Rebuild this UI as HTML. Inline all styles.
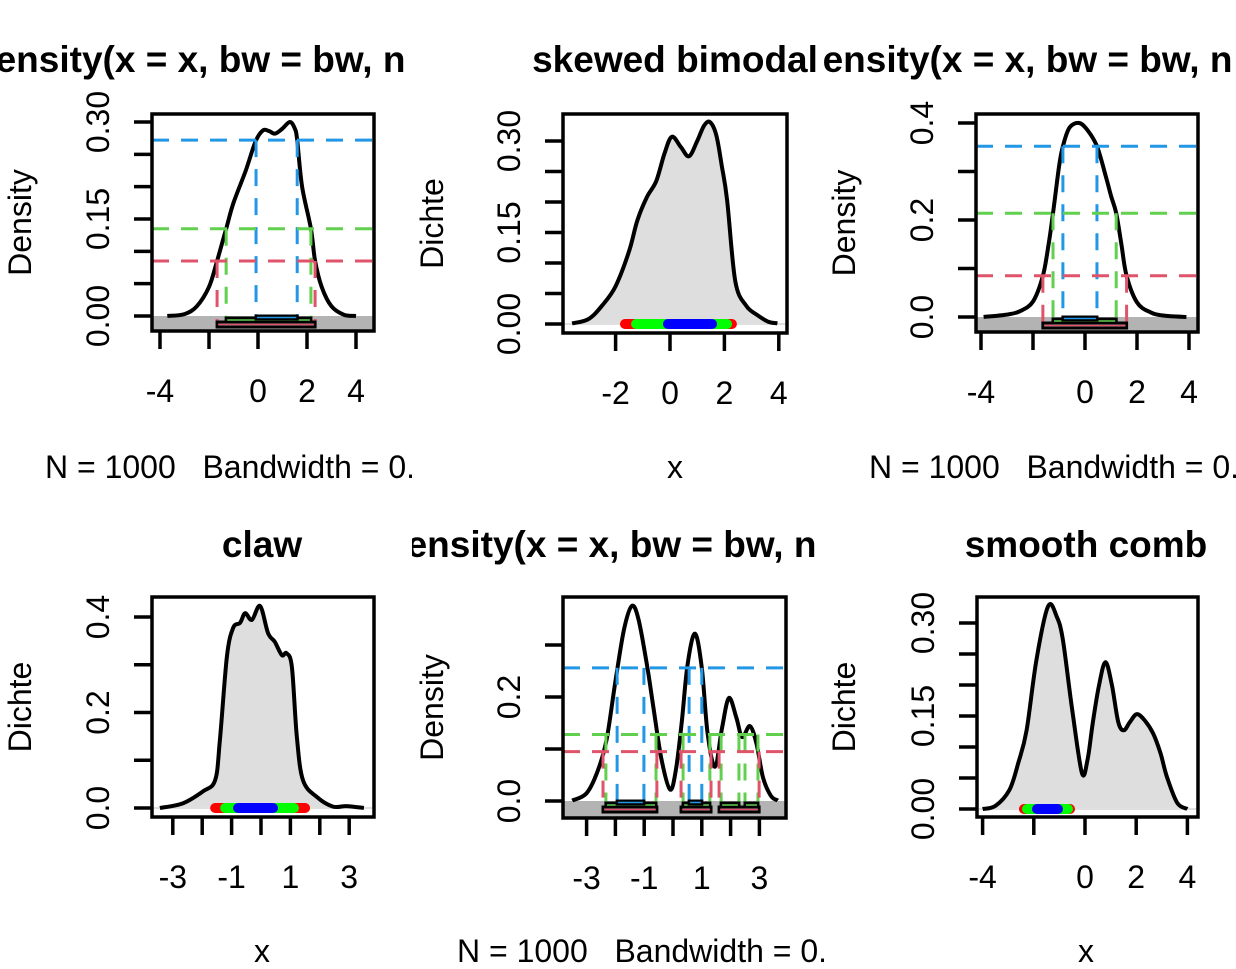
<!DOCTYPE html>
<html><head><meta charset="utf-8"><style>
html,body{margin:0;padding:0;background:#fff;}
svg{display:block;font-family:"Liberation Sans",Arial,sans-serif;}
</style></head><body>
<svg id="fig" width="1236" height="969" viewBox="0 0 1236 969" xmlns="http://www.w3.org/2000/svg">
<defs>
<clipPath id="c1"><rect x="0" y="0" width="412" height="969"/></clipPath>
<clipPath id="c2"><rect x="412" y="0" width="412" height="969"/></clipPath>
<clipPath id="c3"><rect x="823" y="0" width="413" height="969"/></clipPath>
</defs>
</svg>
<script>
// ---- data ----
const xs1=[-3.7,-3,-2.5,-2,-1.67,-1.3,-1,-0.5,-0.1,0.2,0.45,0.7,1.0,1.3,1.5,1.6,1.8,2.16,2.33,2.6,3.0,3.5,4.0];
const ys1=[0,0.003,0.015,0.045,0.085,0.135,0.175,0.225,0.27,0.287,0.286,0.282,0.29,0.3,0.29,0.272,0.2,0.135,0.085,0.045,0.015,0.002,0];
const lev1=[0.272,0.135,0.085];
const int1=[[[-0.08,1.6]],[[-1.3,2.16]],[[-1.67,2.33]]];

const xs2=[-3.6,-3,-2.5,-2,-1.5,-1.2,-0.85,-0.5,-0.2,0.07,0.4,0.7,1.0,1.25,1.47,1.7,1.9,2.1,2.4,2.8,3.2,3.6,3.95];
const ys2=[0.001,0.008,0.03,0.062,0.12,0.17,0.208,0.235,0.28,0.307,0.29,0.275,0.3,0.325,0.331,0.31,0.26,0.203,0.07,0.03,0.015,0.004,0.001];
const rug2=[[-1.84,2.46],[-1.43,2.28],[-0.26,1.73]];

const xs3=[-3.9,-3,-2.5,-2,-1.62,-1.4,-1.23,-1,-0.85,-0.6,-0.23,0.1,0.46,0.8,1.0,1.2,1.4,1.6,2,2.5,3,3.9];
const ys3=[0,0.005,0.012,0.032,0.085,0.15,0.214,0.31,0.352,0.39,0.4,0.385,0.352,0.29,0.25,0.214,0.15,0.085,0.03,0.01,0.003,0];
const lev3=[0.352,0.214,0.085];
const int3=[[[-0.85,0.46]],[[-1.23,1.2]],[[-1.62,1.6]]];

const xs4=[-3.44,-2.65,-1.97,-1.56,-1.4,-1.16,-0.95,-0.71,-0.54,-0.31,-0.03,0.24,0.47,0.71,0.87,1.05,1.22,1.43,1.9,2.45,2.9,3.5];
const ys4=[0,0.01,0.035,0.058,0.14,0.317,0.377,0.388,0.408,0.394,0.423,0.366,0.348,0.32,0.324,0.295,0.148,0.058,0.023,0.003,0.004,0];
const rug4=[[-1.73,1.67],[-1.39,1.29],[-0.95,0.58]];

const xs5=[-3.5,-3,-2.6,-2.3,-2,-1.7,-1.43,-1.2,-0.9,-0.68,-0.4,-0.1,0.1,0.3,0.5,0.76,1.0,1.2,1.46,1.7,1.94,2.2,2.4,2.67,2.9,3.12,3.4,3.64];
const ys5=[0.001,0.015,0.06,0.12,0.23,0.33,0.375,0.35,0.26,0.18,0.08,0.022,0.06,0.149,0.26,0.322,0.256,0.13,0.066,0.14,0.198,0.16,0.123,0.144,0.11,0.046,0.01,0.001];
const lev5=[0.256,0.128,0.095];
const int5=[[[-1.94,-1.01],[0.56,1.0]],[[-2.33,-0.59],[0.35,1.28],[1.67,2.29],[2.5,2.95]],[[-2.43,-0.56],[0.28,1.32],[1.6,2.99]]];

const xs6=[-4,-3.5,-2.95,-2.6,-2.28,-1.9,-1.44,-1.1,-0.86,-0.5,-0.12,0.1,0.3,0.55,0.8,1.05,1.3,1.52,1.75,2.03,2.35,2.66,2.95,3.2,3.6,4];
const ys6=[0,0.005,0.031,0.075,0.127,0.24,0.327,0.31,0.272,0.16,0.058,0.08,0.138,0.2,0.237,0.2,0.14,0.127,0.14,0.153,0.142,0.122,0.09,0.052,0.01,0];
const rug6=[[-2.58,-0.39],[-2.46,-0.47],[-2.07,-0.86]];

const xt4=[-4,-2,0,2,4]; const xl4=["-4","","0","2","4"];
const xt2=[-2,0,2,4]; const xl2=["-2","0","2","4"];
const xt3=[-3,-2,-1,0,1,2,3]; const xl3=["-3","","-1","","1","","3"];
const yt30=[0,0.05,0.1,0.15,0.2,0.25,0.3]; const yl30=["0.00","","","0.15","","","0.30"];
const yt4=[0,0.1,0.2,0.3,0.4]; const yl4=["0.0","","0.2","","0.4"];
const yt3=[0,0.1,0.2,0.3]; const yl3=["0.0","","0.2",""];

const HDRC=["#2297E6","#61D04F","#DF536B"];
const RUGC=["#FF0000","#00FF00","#0000FF"];
const NS="http://www.w3.org/2000/svg";
const svg=document.getElementById('fig');
function mk(tag,attrs,parent){const e=document.createElementNS(NS,tag);for(const k in attrs)e.setAttribute(k,attrs[k]);(parent||svg).appendChild(e);return e;}

function smooth(pts){
  let d="M"+pts[0][0].toFixed(1)+","+pts[0][1].toFixed(1);
  for(let i=0;i<pts.length-1;i++){
    const p0=pts[i-1]||pts[i],p1=pts[i],p2=pts[i+1],p3=pts[i+2]||p2;
    const c1=[p1[0]+(p2[0]-p0[0])/6,p1[1]+(p2[1]-p0[1])/6];
    const c2=[p2[0]-(p3[0]-p1[0])/6,p2[1]-(p3[1]-p1[1])/6];
    d+=" C"+c1[0].toFixed(1)+","+c1[1].toFixed(1)+" "+c2[0].toFixed(1)+","+c2[1].toFixed(1)+" "+p2[0].toFixed(1)+","+p2[1].toFixed(1);
  }
  return d;
}

function panel(P){
  const g=mk('g',{});
  
  
  const X=v=>P.sx0+v*P.su, Y=v=>P.sy0-v*P.syu;
  const [bl,bt,br,bb]=P.box;
  const pts=P.xs.map((x,i)=>[X(x),Y(P.ys[i])]);
  const cd=smooth(pts);
  const clipId='pc'+P.id;
  const cp=mk('clipPath',{id:clipId},g); mk('rect',{x:bl,y:bt,width:br-bl,height:bb-bt},cp);
  const inner=mk('g',{'clip-path':'url(#'+clipId+')'},g);
  if(P.hdr){
    const band=mk('rect',{x:bl,y:P.sy0,width:br-bl,height:bb-P.sy0,fill:'#b3b3b3'},inner);
     
    const cur=mk('path',{d:cd,fill:'none',stroke:'#000','stroke-width':4},inner);
     
    const offs=[[0,3],[2,6],[6,11]];
    P.lev.forEach((lv,k)=>{
      const hl=mk('line',{x1:bl,x2:br,y1:Y(lv),y2:Y(lv),stroke:HDRC[k],'stroke-width':3,'stroke-dasharray':'17 12'},inner);
       
      P.ints[k].forEach(iv=>{
        iv.forEach(x=>{
          const vl=mk('line',{x1:X(x),x2:X(x),y1:Y(lv),y2:P.sy0+offs[k][1],stroke:HDRC[k],'stroke-width':3,'stroke-dasharray':'17 12'},inner);
           
        });
      });
    });
    [2,1,0].forEach(k=>{
      P.ints[k].forEach(iv=>{
        const r=mk('rect',{x:X(iv[0]),y:P.sy0+offs[k][0],width:X(iv[1])-X(iv[0]),height:offs[k][1]-offs[k][0],fill:'none',stroke:'#000','stroke-width':3},inner);
         
        const ln=mk('line',{x1:X(iv[0])+1,x2:X(iv[1])-1,y1:P.sy0+(offs[k][0]+offs[k][1])/2,y2:P.sy0+(offs[k][0]+offs[k][1])/2,stroke:HDRC[k],'stroke-width':1.5},inner);
         
      });
    });
  } else {
    const fill=mk('path',{d:cd+" L"+pts[pts.length-1][0]+","+P.sy0+" L"+pts[0][0]+","+P.sy0+" Z",fill:'#dedede',stroke:'none'},inner);
     
    mk('line',{x1:bl,x2:br,y1:P.sy0,y2:P.sy0,stroke:'#e0e0e0','stroke-width':2},inner);
    P.rug.forEach((r,k)=>{
      const rl=mk('line',{x1:X(r[0])+5,x2:X(r[1])-5,y1:P.sy0,y2:P.sy0,stroke:RUGC[k],'stroke-width':10,'stroke-linecap':'round'},inner);
       
    });
    const cur=mk('path',{d:cd,fill:'none',stroke:'#000','stroke-width':4},inner);
     
  }
  const box=mk('rect',{x:bl,y:bt,width:br-bl,height:bb-bt,fill:'none',stroke:'#000','stroke-width':3.5},g);
   
  P.xt.forEach((t,i)=>{
    mk('line',{x1:X(t),x2:X(t),y1:bb,y2:bb+18,stroke:'#000','stroke-width':3.5},g);
    if(P.xl[i]){const tx=mk('text',{x:X(t),y:bb+71,'text-anchor':'middle','font-size':32},g);tx.textContent=P.xl[i];
       }
  });
  P.yt.forEach((t,i)=>{
    mk('line',{x1:bl,x2:bl-18,y1:Y(t),y2:Y(t),stroke:'#000','stroke-width':3.5},g);
    if(P.yl[i]){const ax=bl-43,ay=Y(t);const tx=mk('text',{x:ax,y:ay,'text-anchor':'middle','font-size':32,transform:'rotate(-90 '+ax+' '+ay+')'},g);tx.textContent=P.yl[i];
       }
  });
  const yx=P.col*412+31, yy=(bt+bb)/2;
  const yt=mk('text',{x:yx,y:yy,'text-anchor':'middle','font-size':32,transform:'rotate(-90 '+yx+' '+yy+')'},g);
  yt.textContent=P.ylab;  
  const clip='url(#c'+(P.col+1)+')';
  const ty=P.row?557:72;
  const tt=mk('text',{x:P.titleX,y:ty,'text-anchor':P.titleAnchor,'font-size':37,'font-weight':'bold','clip-path':clip},g);
  tt.textContent=P.title;  
  const sy=P.row?962:478;
  const st=mk('text',{x:P.subX,y:sy,'text-anchor':P.subAnchor,'font-size':32,'clip-path':clip},g);
  st.setAttribute('xml:space','preserve'); st.style.whiteSpace='pre';
  st.textContent=P.sub;  
}
const DT="density(x = x, bw = bw, n = n)";
const NB="N = 1000   Bandwidth = 0.4187";
panel({id:1,name:'panel-density-1',row:0,col:0,box:[152,114,374,331],sx0:258,su:24.5,sy0:316,syu:646.7,xs:xs1,ys:ys1,hdr:true,lev:lev1,ints:int1,xt:xt4,xl:xl4,yt:yt30,yl:yl30,ylab:'Density',title:DT,titleX:-27,titleAnchor:'start',sub:NB,subX:45,subAnchor:'start'});
panel({id:2,name:'panel-skewed-bimodal',row:0,col:1,box:[563,114,787,333],sx0:670,su:27.2,sy0:324,syu:610,xs:xs2,ys:ys2,hdr:false,rug:rug2,xt:xt2,xl:xl2,yt:yt30,yl:yl30,ylab:'Dichte',title:'skewed bimodal',titleX:675,titleAnchor:'middle',sub:'x',subX:675,subAnchor:'middle'});
panel({id:3,name:'panel-density-3',row:0,col:2,box:[976,114,1198,332],sx0:1085,su:26,sy0:317,syu:485,xs:xs3,ys:ys3,hdr:true,lev:lev3,ints:int3,xt:xt4,xl:xl4,yt:yt4,yl:yl4,ylab:'Density',title:DT,titleX:800,titleAnchor:'start',sub:NB,subX:869,subAnchor:'start'});
panel({id:4,name:'panel-claw',row:1,col:0,box:[152,597,374,817],sx0:261,su:29.4,sy0:808,syu:477.5,xs:xs4,ys:ys4,hdr:false,rug:rug4,xt:xt3,xl:xl3,yt:yt4,yl:yl4,ylab:'Dichte',title:'claw',titleX:262,titleAnchor:'middle',sub:'x',subX:262,subAnchor:'middle'});
panel({id:5,name:'panel-density-5',row:1,col:1,box:[563,597,786,818],sx0:673,su:28.8,sy0:801,syu:520,xs:xs5,ys:ys5,hdr:true,lev:lev5,ints:int5,xt:xt3,xl:xl3,yt:yt3,yl:yl3,ylab:'Density',title:DT,titleX:384,titleAnchor:'start',sub:NB,subX:457,subAnchor:'start'});
panel({id:6,name:'panel-smooth-comb',row:1,col:2,box:[977,597,1198,817],sx0:1085,su:25.6,sy0:809,syu:620,xs:xs6,ys:ys6,hdr:false,rug:rug6,xt:xt4,xl:xl4,yt:yt30,yl:yl30,ylab:'Dichte',title:'smooth comb',titleX:1086,titleAnchor:'middle',sub:'x',subX:1086,subAnchor:'middle'});
</script>
</body></html>
